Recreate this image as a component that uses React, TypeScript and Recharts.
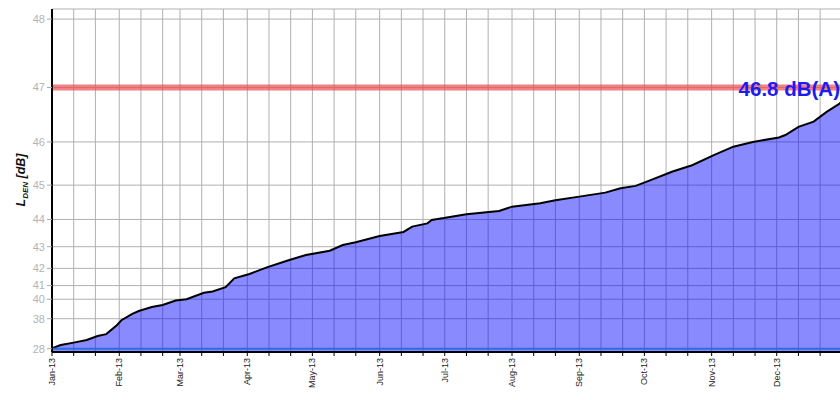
import { AreaChart, Area, XAxis, YAxis, CartesianGrid, ReferenceLine } from 'recharts';

// month labels and the day-of-year each one starts on (2013)
const MONTHS = ['Jan-13', 'Feb-13', 'Mar-13', 'Apr-13', 'May-13', 'Jun-13', 'Jul-13', 'Aug-13', 'Sep-13', 'Oct-13', 'Nov-13', 'Dec-13'];
const MONTH_START = [0, 31, 59, 90, 120, 151, 181, 212, 243, 273, 304, 334];

// cumulative L_DEN (day of year -> dB)
const DAYS = [0, 4, 10, 16, 21, 25, 30, 32, 37, 40, 46, 51, 57, 62, 70, 74, 80, 84, 91, 99,
  109, 117, 128, 134, 140, 151, 162, 166, 173, 175, 182, 191, 206, 212, 225, 232, 243, 255, 262, 269,
  275, 286, 295, 305, 314, 323, 335, 338, 344, 351, 357, 363, 365];
const LDEN = [28.5, 31.2, 32.5, 33.6, 34.8, 35.3, 37.1, 37.8, 38.6, 38.9, 39.3, 39.5, 39.9, 40.0, 40.5, 40.6, 40.9, 41.45, 41.7, 42.05,
  42.4, 42.64, 42.83, 43.07, 43.18, 43.42, 43.57, 43.76, 43.87, 43.98, 44.06, 44.17, 44.27, 44.4, 44.5, 44.59, 44.69, 44.8, 44.92, 44.98,
  45.11, 45.34, 45.49, 45.72, 45.9, 46.0, 46.09, 46.14, 46.3, 46.4, 46.58, 46.73, 46.8];

const Y_TICKS_DB = [28, 38, 40, 41, 42, 43, 44, 45, 46, 47, 48];
const LIMIT_DB = 47;
const BASE_DB = 28;
const FINAL_LABEL = '46.8 dB(A)';

// axis is linear in energy, labelled in dB
const toE = (db: number) => Math.pow(10, db / 10);
const toDb = (e: number) => Math.round(10 * Math.log10(e));

const data = DAYS.map((d, i) => ({ day: d, e: toE(LDEN[i]) }));
const xTicks = MONTH_START.flatMap(m => [m, m + 10, m + 20]);
const yTicks = Y_TICKS_DB.map(toE);

const FONT = '"Liberation Sans", Arial, sans-serif';

function MonthTick(props: any) {
  const { x, y, payload } = props;
  const i = MONTH_START.indexOf(payload.value);
  if (i < 0) return null;
  const tx = x + 3;
  return (
    <text x={tx} y={y} transform={`rotate(-90 ${tx} ${y})`} textAnchor="end" fontSize={9} fill="#222" fontFamily={FONT}>
      {MONTHS[i]}
    </text>
  );
}

function YTitle() {
  return (
    <text x={25} y={180} transform="rotate(-90 25 180)" textAnchor="middle" fontSize={12.5} fontWeight="bold" fontStyle="italic" fill="#111" fontFamily={FONT}>
      L<tspan fontSize={8} dy={3}>DEN</tspan><tspan dy={-3}> [dB]</tspan>
    </text>
  );
}

function LimitLabel(props: any) {
  const vb = props.viewBox || {};
  return (
    <text x={840} y={(vb.y || 0) + 8.5} textAnchor="end" fontSize={20.5} fontWeight="bold" fill="#1c1cf0" fontFamily={FONT}>
      {FINAL_LABEL}
    </text>
  );
}

export default function App() {
  return (
    <div style={{ position: 'absolute', left: 0, top: 0, width: 840, height: 400, overflow: 'hidden', background: '#fff' }}>
      <AreaChart width={850} height={400} data={data} margin={{ top: 9, right: 6, bottom: 0, left: 0 }}>
        <CartesianGrid stroke="#b0b0b0" strokeWidth={1} />
        <XAxis
          type="number" dataKey="day" domain={[0, 365]} ticks={xTicks} interval={0} height={48}
          axisLine={{ stroke: '#000', strokeWidth: 2 }} tickLine={{ stroke: '#000' }} tickSize={4} tickMargin={2}
          tick={<MonthTick />} allowDataOverflow
        />
        <YAxis
          type="number" domain={[0, 65000]} ticks={yTicks} interval={0} width={52}
          axisLine={{ stroke: '#000', strokeWidth: 2 }} tickLine={{ stroke: '#aaa' }} tickSize={5}
          tickFormatter={(v: number) => `${toDb(v)}`}
          tick={{ fontSize: 11, fill: '#b3b3b3', fontFamily: FONT }}
          label={<YTitle />}
          allowDataOverflow
        />
        <Area type="linear" dataKey="e" stroke="#000" strokeWidth={2} fill="#0000ff" fillOpacity={0.46} isAnimationActive={false} />
        <ReferenceLine y={toE(BASE_DB)} stroke="#2a6fe8" strokeWidth={2} />
        <ReferenceLine y={toE(LIMIT_DB)} stroke="#ec4b4e" strokeOpacity={0.7} strokeWidth={6} label={<LimitLabel />} />
      </AreaChart>
    </div>
  );
}
